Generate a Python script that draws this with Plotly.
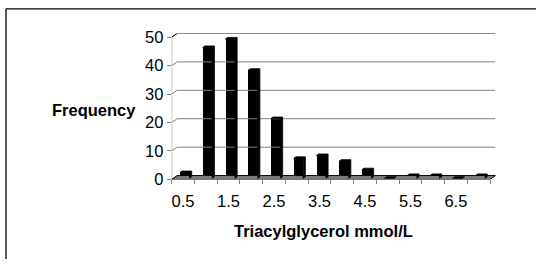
import plotly.graph_objects as go

# ---- data ----
categories = ["0.5", "1", "1.5", "2", "2.5", "3", "3.5", "4", "4.5", "5", "5.5", "6", "6.5", "7"]
frequency = [2, 46, 49, 38, 21, 7, 8, 6, 3, 0, 1, 1, 0, 1]
y_ticks = [0, 10, 20, 30, 40, 50]
x_title = "Triacylglycerol mmol/L"
y_title = "Frequency"

# ---- layout geometry (pixels) ----
W, H = 536, 268
X0_PX, X1_PX = 171.7, 490.0      # front plane x extent
Y0_PX, YTOP_PX = 184.0, 34.0     # front plane y of value 0 and of value 50
DEPTH_X_PX, DEPTH_Y_PX = 5.5, 4.0
YMAX = 50

n = len(categories)
px_per_cat = (X1_PX - X0_PX) / n
px_per_unit = (Y0_PX - YTOP_PX) / YMAX
DX = DEPTH_X_PX / px_per_cat
DY = DEPTH_Y_PX / px_per_unit

idx = list(range(n))
FONT = "Liberation Sans, Arial, sans-serif"
GRAY = "#808080"

fig = go.Figure()

# back wall gridlines (shifted by depth)
gx, gy = [], []
for t in y_ticks[:-1]:
    gx += [-0.5 + DX, n - 0.5 + DX, None]
    gy += [t + DY, t + DY, None]
fig.add_trace(go.Scatter(x=gx, y=gy, mode="lines", line=dict(color=GRAY, width=1),
                         hoverinfo="skip", cliponaxis=False, showlegend=False))
# side wall connectors
cx_, cy_ = [], []
for t in y_ticks:
    cx_ += [-0.5, -0.5 + DX, None]
    cy_ += [t, t + DY, None]
fig.add_trace(go.Scatter(x=cx_, y=cy_, mode="lines", line=dict(color=GRAY, width=1),
                         hoverinfo="skip", cliponaxis=False, showlegend=False))
# top back edge (black)
fig.add_trace(go.Scatter(x=[-0.5, -0.5 + DX, n - 0.5 + DX], y=[YMAX, YMAX + DY, YMAX + DY],
                         mode="lines", line=dict(color="black", width=1),
                         hoverinfo="skip", cliponaxis=False, showlegend=False))
# front-left axis line
fig.add_trace(go.Scatter(x=[-0.5, -0.5], y=[0, YMAX], mode="lines",
                         line=dict(color=GRAY, width=1), hoverinfo="skip",
                         cliponaxis=False, showlegend=False))
# floor
fig.add_trace(go.Scatter(x=[-0.5, n - 0.5, n - 0.5 + DX, -0.5 + DX, -0.5],
                         y=[0, 0, DY, DY, 0], mode="lines", fill="toself",
                         fillcolor=GRAY, line=dict(color="black", width=1),
                         hoverinfo="skip", cliponaxis=False, showlegend=False))

# bars: front face
BW = 0.42
D0, D1 = 0.3, 0.7
base = D0 * DY
fig.add_trace(go.Bar(x=[i + D0 * DX for i in idx], y=frequency, base=base, width=BW,
                     marker=dict(color="black", line=dict(width=0)),
                     hovertext=categories, showlegend=False))
# bars: 3D top/side faces
px, py = [], []
ddx, ddy = (D1 - D0) * DX, (D1 - D0) * DY
for i, v in zip(idx, frequency):
    xl = i + D0 * DX - BW / 2
    xr = i + D0 * DX + BW / 2
    top = v + base
    px += [xl, xl + ddx, xr + ddx, xr + ddx, xr, xr, xl, None]
    py += [top, top + ddy, top + ddy, base + ddy, base, top, top, None]
fig.add_trace(go.Scatter(x=px, y=py, mode="lines", fill="toself", fillcolor="black",
                         line=dict(color="black", width=0.8), hoverinfo="skip",
                         cliponaxis=False, showlegend=False))

fig.update_layout(
    width=W, height=H,
    margin=dict(l=0, r=0, t=0, b=0),
    paper_bgcolor="white", plot_bgcolor="rgba(0,0,0,0)",
    font=dict(family=FONT, size=16.5, color="black"),
    bargap=0,
    xaxis=dict(
        range=[-0.5, n - 0.5 + DX],
        domain=[X0_PX / W, (X1_PX + DEPTH_X_PX) / W],
        tickmode="array", tickvals=idx[::2], ticktext=categories[::2],
        ticks="", showgrid=False, zeroline=False, showline=False,
        minor=dict(tickmode="array", tickvals=[i - 0.5 for i in range(n + 1)],
                   ticks="outside", ticklen=4, tickcolor=GRAY, showgrid=False),
        ticklabelstandoff=10,
        tickfont=dict(size=16.5),
    ),
    yaxis=dict(
        range=[0, YMAX + DY],
        domain=[(H - Y0_PX) / H, (H - (YTOP_PX - DEPTH_Y_PX)) / H],
        tickmode="array", tickvals=y_ticks,
        ticks="outside", ticklen=4, tickcolor=GRAY,
        showgrid=False, zeroline=False, showline=False,
        tickfont=dict(size=16.5),
    ),
    annotations=[
        dict(text=f"<b>{y_title}</b>", x=94 / W, y=(H - 111) / H, xref="paper", yref="paper",
             showarrow=False, font=dict(size=16.5), xanchor="center", yanchor="middle"),
        dict(text=f"<b>{x_title}</b>", x=323 / W, y=(H - 238) / H, xref="paper", yref="paper",
             showarrow=False, font=dict(size=16.5), xanchor="center", yanchor="middle"),
    ],
    shapes=[
        dict(type="line", xref="paper", yref="paper", x0=6 / W, x1=1.0, y0=(H - 4) / H, y1=(H - 4) / H,
             line=dict(color="black", width=1.3)),
        dict(type="line", xref="paper", yref="paper", x0=6 / W, x1=6 / W, y0=0, y1=(H - 4) / H,
             line=dict(color="black", width=1.3)),
    ],
)

fig.write_html("out.html", config={"displayModeBar": False},
               post_script="document.body.style.margin='0';document.body.style.overflow='hidden';")
